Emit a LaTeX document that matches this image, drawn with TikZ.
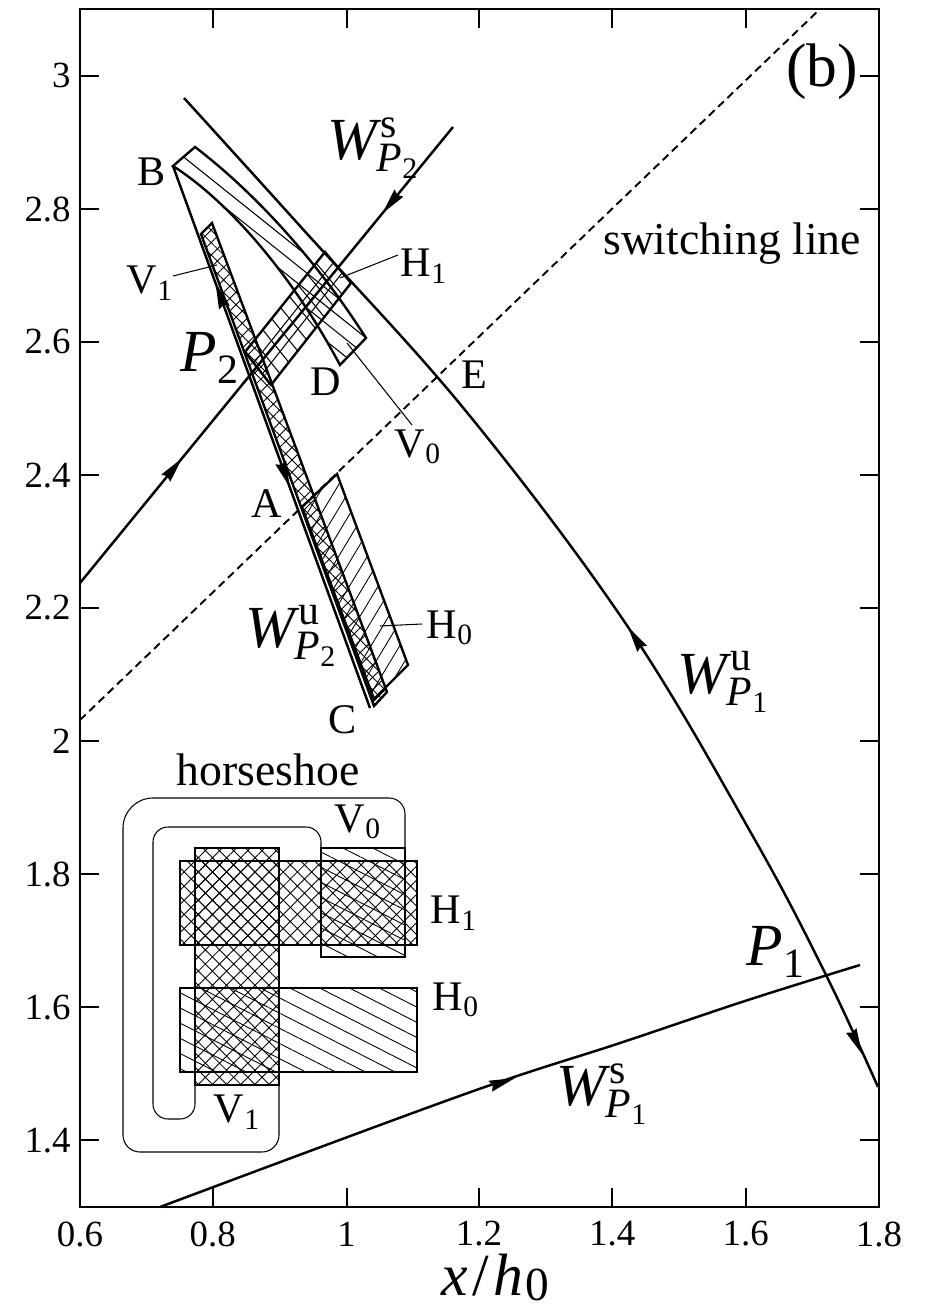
\documentclass[tikz,border=0pt]{standalone}
\usepackage{amsmath}
\usepackage{fontspec}
\setmainfont{Liberation Serif}
\usetikzlibrary{patterns.meta,calc}
\newcommand{\Wl}[2]{$\textit{W}^{\kern2pt\textrm{#1}}_{\textit{P}_{\textrm{#2}}}$}
\newcommand{\Sl}[2]{$\textrm{#1}_{\textrm{#2}}$}
% filled arrow head: tip at #1, pointing away from #2
\newcommand{\ahead}[2]{\fill (#1) -- ($(#1)!0.52cm!(#2)!0.115cm!90:(#1)$) -- ($(#1)!0.47cm!(#2)$) -- ($(#1)!0.52cm!(#2)!0.115cm!-90:(#1)$) -- cycle;}
\begin{document}
\begin{tikzpicture}[x=0.02cm,y=-0.02cm,
  axisline/.style={line width=1.3pt},
  curve/.style={line width=1.4pt},
  region/.style={line width=1.35pt},
  thinl/.style={line width=0.6pt},
  switchline/.style={line width=1.1pt, dash pattern=on 4.5pt off 2.8pt},
  ticklab/.style={font=\fontsize{21pt}{21pt}\selectfont, inner sep=0pt},
  ptlab/.style={font=\fontsize{24pt}{24pt}\selectfont, inner sep=0pt},
  biglab/.style={font=\fontsize{34pt}{34pt}\selectfont, inner sep=0pt},
  txtlab/.style={font=\fontsize{26pt}{26pt}\selectfont, inner sep=0pt},
  crossA/.style={pattern={Hatch[angle=45,distance=5pt,line width=0.5pt]}},
  linesA/.style={pattern={Lines[angle=59,distance=7pt,line width=0.5pt]}},
  insetcross/.style={pattern={Hatch[angle=45,distance=5.7pt,line width=0.5pt]}},
  insetlines/.style={pattern={Lines[angle=-27,distance=7.7pt,line width=0.5pt]}},
]
\useasboundingbox (0,0) rectangle (930,1311);

% ---------- inset (horseshoe) ----------
\draw[thinl, insetcross] (195,848) rectangle (279,1085);
\draw[thinl, insetcross] (180,861) rectangle (417,945);
\draw[thinl, insetlines] (180,988) rectangle (417,1072);
\draw[thinl, insetlines] (321,848) rectangle (405,957);
\draw[thinl, rounded corners=0.34cm] (279,1085) -- (279,1152) -- (123,1152)
   [rounded corners=0.6cm] -- (123,798) [rounded corners=0.32cm] -- (405,798) -- (405,848);
\draw[thinl, rounded corners=0.3cm] (195,1085) -- (195,1119) -- (153,1119) -- (153,827) -- (321,827) -- (321,848);
\node[txtlab] (hs) at (268,770) {horseshoe};
\node[ptlab] (iv0) at (358,822) {\Sl{V}{0}};
\node[ptlab] (ih1) at (454,913) {\Sl{H}{1}};
\node[ptlab] (ih0) at (456,1000) {\Sl{H}{0}};
\node[ptlab] (iv1) at (237,1112) {\Sl{V}{1}};

% ---------- regions in the main plot ----------
% V0 (rhombus B-D)
\def\vzeropath{(173,166) -- (195,147) .. controls (245,185) and (310,250) .. (366,338) -- (340,365) .. controls (285,262) and (220,196) .. cycle}
\begin{scope}
  \clip \vzeropath;
  \foreach \k in {-0.5,0,0.5,1,1.5}
    \draw[thinl] (150,{166+0.8*(150-173)+35*\k}) -- (400,{166+0.8*(400-173)+35*\k});
\end{scope}
\draw[region] \vzeropath;
% H0
\draw[region, linesA] (302,507) -- (337,474) -- (408,665) -- (374,699) -- cycle;
% V1 strip
\draw[region, crossA] (201,234) -- (212,223) -- (387,692) -- (374,706) -- cycle;
% H1 (grid aligned with the box)
\coordinate (hL) at (245,352);
\coordinate (hT) at (325,252);
\coordinate (hR) at (351,283);
\coordinate (hB) at (271,385);
\foreach \i in {1,2}
  \draw[thinl] ($(hL)!\i/3!(hB)$) -- ($(hT)!\i/3!(hR)$);
\foreach \j in {1,...,8}
  \draw[thinl] ($(hL)!\j/9!(hT)$) -- ($(hB)!\j/9!(hR)$);
\draw[region] (hL) -- (hT) -- (hR) -- (hB) -- cycle;

% ---------- switching line ----------
\coordinate (sw1) at (80,720);
\coordinate (sw2) at (820,9);
\draw[switchline] (sw1) -- (sw2);

% ---------- manifolds ----------
\coordinate (B) at (173,166);
\coordinate (Cp) at (370,708);
\coordinate (ws1) at (80,583);
\coordinate (ws2) at (453,127);
\draw[curve] (B) -- (Cp);
\draw[curve] (ws1) -- (ws2);
\draw[curve] plot[smooth, tension=0.6] coordinates {(184,98) (300,226) (465,410) (628,627) (755,840) (827,977) (878,1087)};
\draw[curve] plot[smooth, tension=0.6] coordinates {(160,1207) (465,1094) (620,1043) (748,1000) (860,965)};

% arrowheads
\coordinate (t1) at ($(B)!0.216!(Cp)$);
\coordinate (t2) at ($(B)!0.592!(Cp)$);
\coordinate (t3) at ($(ws1)!0.274!(ws2)$);
\coordinate (t4) at ($(ws1)!0.811!(ws2)$);
\coordinate (t5) at (628,627);   \coordinate (b5) at (641,647);
\coordinate (t6) at (862,1054);  \coordinate (b6) at (851,1030);
\coordinate (t7) at (515,1078);  \coordinate (b7) at (491,1086);
\ahead{t1}{Cp}
\ahead{t2}{B}
\ahead{t3}{ws1}
\ahead{t4}{ws2}
\ahead{t5}{b5}
\ahead{t6}{b6}
\ahead{t7}{b7}

% leaders
\coordinate (lv1a) at (173,276); \coordinate (lv1b) at (217,265);
\coordinate (lh1a) at (340,278); \coordinate (lh1b) at (398,255);
\coordinate (lv0a) at (347,343); \coordinate (lv0b) at (412,425);
\coordinate (lh0a) at (380,626); \coordinate (lh0b) at (422,624);
\draw[thinl] (lv1a) -- (lv1b);
\draw[thinl] (lh1a) -- (lh1b);
\draw[thinl] (lv0a) -- (lv0b);
\draw[thinl] (lh0a) -- (lh0b);

% labels
\node[ptlab] (lB) at (152,172) {B};
\node[ptlab] (lD) at (326,382) {D};
\node[ptlab] (lE) at (474,375) {E};
\node[ptlab] (lA) at (267,504) {A};
\node[ptlab] (lC) at (343,720) {C};
\node[ptlab] (lV1) at (150,283) {\Sl{V}{1}};
\node[ptlab] (lH1) at (424,266) {\Sl{H}{1}};
\node[ptlab] (lV0) at (418,447) {\Sl{V}{0}};
\node[ptlab] (lH0) at (450,628) {\Sl{H}{0}};
\node[biglab] (lWs2) at (373,148) {\Wl{s}{2}};
\node[biglab] (lWu2) at (291,636) {\Wl{u}{2}};
\node[biglab] (lWu1) at (723,682) {\Wl{u}{1}};
\node[biglab] (lWs1) at (602,1094) {\Wl{s}{1}};
\node[biglab] (lP2) at (210,358) {$\textit{P}_{\textrm{2}}$};
\node[biglab] (lP1) at (776,952) {$\textit{P}_{\textrm{1}}$};
\node[txtlab] (lsw) at (732,244) {switching line};
\node[font=\fontsize{35pt}{35pt}\selectfont, inner sep=0pt] (lb) at (822,72) {(b)};

% ---------- frame, ticks ----------
\draw[axisline] (80,9) rectangle (879,1207);
\foreach \x in {212.7,346.7,479,612.3,745.7} {
  \draw[axisline] (\x,1207) -- (\x,1188);
  \draw[axisline] (\x,9) -- (\x,28);
}
\foreach \y in {75.7,209,341.7,475.3,608,741,874,1007.3,1140.3} {
  \draw[axisline] (80,\y) -- (99,\y);
  \draw[axisline] (879,\y) -- (860,\y);
}
\foreach \v/\t [count=\i] in {80/0.6,212.7/0.8,346.7/1,479/1.2,612.3/1.4,745.7/1.6,879/1.8}
  \node[ticklab] (xt\i) at (\v,1234) {\t};
\foreach \v/\t [count=\i] in {75.7/3,209/2.8,341.7/2.6,475.3/2.4,608/2.2,741/2,874/1.8,1007.3/1.6,1140.3/1.4}
  \node[ticklab, anchor=east] (yt\i) at (71,\v) {\t};
\node[font=\fontsize{34pt}{34pt}\selectfont, inner sep=0pt, anchor=base west] (xlab) at (441,1295)
  {\textit{x}\kern2.5pt/\kern2.5pt\textit{h}\kern1.5pt\raisebox{-0.1em}{\fontsize{27pt}{27pt}\selectfont 0}};
\end{tikzpicture}
\end{document}
